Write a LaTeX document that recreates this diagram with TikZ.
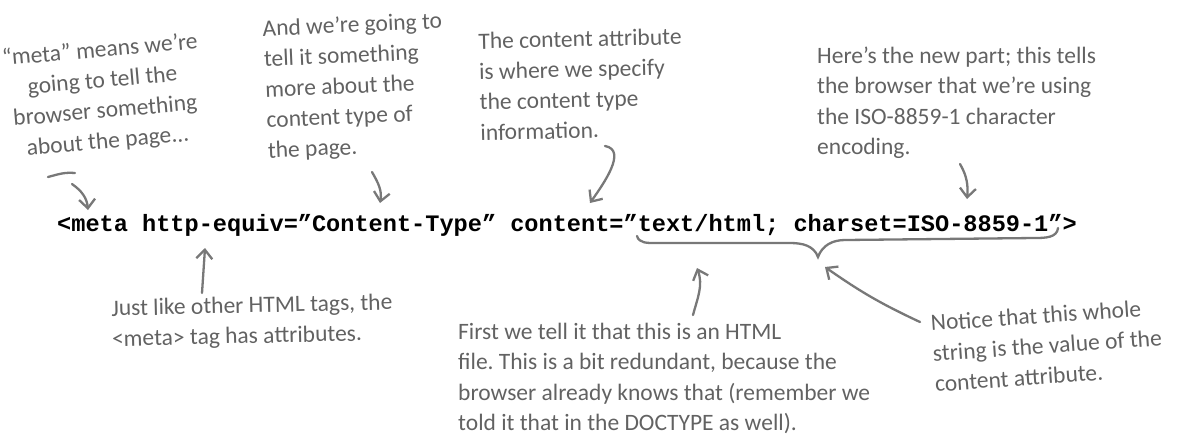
\documentclass[tikz,border=0pt]{standalone}
\usepackage{fontspec}
\usepackage{tikz}
\usetikzlibrary{arrows.meta}
\setmainfont{Carlito}
\newfontfamily\codefont{Liberation Mono}
\newfontfamily\handfont{Carlito}
\definecolor{handgray}{RGB}{98,98,98}
\definecolor{pengray}{RGB}{120,120,120}
\frenchspacing
\tikzstyle{note} = [anchor=north west, inner sep=0pt, align=left, text=handgray, font=\handfont\fontsize{23.5}{30.5}\selectfont]
\tikzstyle{pen} = [draw=pengray, line width=2.3pt, line cap=round, line join=round, -{Straight Barb[length=9pt, width=16pt]}]

\begin{document}
\begin{tikzpicture}[x=1pt, y=1pt]
    \useasboundingbox (0,0) rectangle (1177,-440);

    % The code line
    \node (code) [anchor=base west, inner sep=0pt, font=\codefont\bfseries\fontsize{23.6}{28}\selectfont] at (57,-231)
        {<meta http-equiv=”Content-Type” content=”text/html; charset=ISO-8859-1”>};

    % Notes above
    \node (metanote) [note, anchor=north, align=center, rotate=5] at (99,-40) {%
        “meta” means we’re\\ going to tell the\\ browser something\\ about the page...};
    \node (typenote) [note, rotate=2.5] at (262,-19.5) {%
        And we’re going to\\ tell it something\\ more about the\\ content type of\\ the page.};
    \node (contentnote) [note, rotate=1.3] at (478,-32.5) {%
        The content attribute\\ is where we specify\\ the content type\\ information.};
    \node (charsetnote) [note] at (817,-46.5) {%
        Here’s the new part; this tells\\ the browser that we’re using\\ the ISO-8859-1 character\\ encoding.};

    % Notes below
    \node (attrnote) [note, rotate=1.3] at (111,-299.5) {%
        Just like other HTML tags, the\\ <meta> tag has attributes.};
    \node (htmlnote) [note] at (458,-322.5) {%
        First we tell it that this is an HTML\\ file. This is a bit redundant, because the\\
        browser already knows that (remember we\\ told it that in the DOCTYPE as well).};
    \node (valuenote) [note, rotate=4] at (930,-314.5) {%
        Notice that this whole\\ string is the value of the\\ content attribute.};

    % Arrow ends
    \coordinate (metadash) at (48,-177);
    \coordinate (metatail) at (72,-184);
    \coordinate (typetail) at (372,-172);
    \coordinate (contenttail) at (605,-146);
    \coordinate (charsettail) at (960,-164);
    \coordinate (attrtail) at (202,-293);
    \coordinate (htmltail) at (693,-315);
    \coordinate (valuetail) at (920,-322);

    \coordinate (metatip) at ([xshift=31pt, yshift=21pt]code.base west);
    \coordinate (typetip) at ([xshift=323pt, yshift=28pt]code.base west);
    \coordinate (contenttip) at ([xshift=533pt, yshift=28pt]code.base west);
    \coordinate (charsettip) at ([xshift=910pt, yshift=32pt]code.base west);
    \coordinate (attrtip) at ([xshift=148pt, yshift=-17pt]code.base west);
    \coordinate (htmltip) at ([xshift=640pt, yshift=-37pt]code.base west);
    \coordinate (valuetip) at ([xshift=768pt, yshift=-36pt]code.base west);

    % Brace under the value
    \draw [pengray, line width=2.3pt, line cap=round] (637,-236) to[out=-75,in=180] (655,-243) -- (790,-243)
        to[out=0,in=110] (818,-257) to[out=70,in=180] (845,-240) -- (1035,-238) to[out=0,in=-95] (1058,-228);

    % Arrows
    \draw [pen] (metadash) to[out=15,in=175] ++(27,4) (metatail) to[out=-35,in=95] (metatip);
    \draw [pen] (typetail) to[out=-60,in=80] (typetip);
    \draw [pen] (contenttail) to[out=-10,in=55] (contenttip);
    \draw [pen] (charsettail) to[out=-60,in=85] (charsettip);
    \draw [pen] (attrtail) -- (attrtip);
    \draw [pen] (htmltail) to[out=75,in=-70] (htmltip);
    \draw [pen] (valuetail) to[out=155,in=-35] (valuetip);
\end{tikzpicture}
\end{document}
